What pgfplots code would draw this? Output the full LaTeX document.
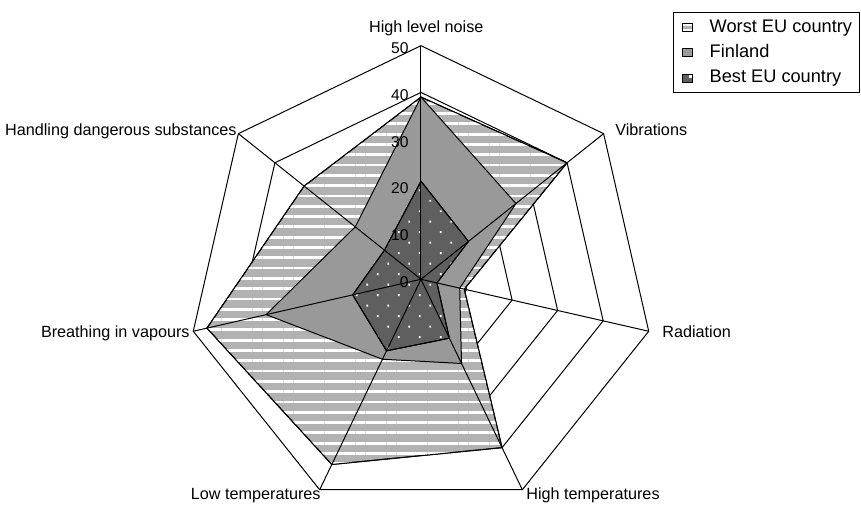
\documentclass[border=0pt]{standalone}
\usepackage{fontspec}
\setmainfont{Liberation Sans}
\usepackage{pgfplots}
\pgfplotsset{compat=1.18}
\usetikzlibrary{patterns.meta}

\definecolor{worstgray}{RGB}{178,178,178}
\definecolor{fingray}{RGB}{153,153,153}
\definecolor{bestgray}{RGB}{95,95,95}

% spokes clockwise from the top:
% noise 90, vibrations 38.5714, radiation -12.8571, high temp -64.2857,
% low temp -115.7143, vapours -167.1429, dangerous substances -218.5714
\begin{document}
\begin{tikzpicture}
\begin{axis}[
    x=2.336pt, y=2.336pt,
    xmin=-90.11, xmax=94.18, ymin=-48.31, ymax=59.78,
    enlargelimits=false, clip=false,
    axis line style={draw=none}, ticks=none,
    gridline/.style={black, line width=0.5pt, forget plot, data cs=polar},
    legend cell align=left,
    legend style={at={(0.9994,0.9756)}, anchor=north east, draw=black, line width=0.5pt,
        font=\fontsize{9.1}{10}\selectfont, inner xsep=4pt, inner ysep=3.2pt,
        row sep=4.2pt, column sep=8.5pt,
        nodes={inner sep=0pt, text height=6.6pt, text depth=1.8pt, anchor=west}},
]
% legend glyphs
\addlegendimage{legend image code/.code={
    \draw[fill=white, line width=0.5pt] (0pt,-2pt) rectangle (5pt,2pt);
    \fill[worstgray] (0.5pt,-0.6pt) rectangle (4.5pt,0.6pt);}}
\addlegendentry{Worst EU country}
\addlegendimage{legend image code/.code={
    \draw[fill=fingray, line width=0.5pt] (0pt,-2pt) rectangle (5pt,2pt);}}
\addlegendentry{Finland}
\addlegendimage{legend image code/.code={
    \draw[fill=bestgray, line width=0.5pt] (0pt,-2pt) rectangle (5pt,2pt);
    \fill[white] (3.4pt,0.5pt) rectangle (4.4pt,1.5pt);}}
\addlegendentry{Best EU country}

% rings
\pgfplotsinvokeforeach{10,20,30,40,50}{
\addplot[gridline] coordinates {(90,#1) (38.5714,#1) (-12.8571,#1) (-64.2857,#1)
    (-115.7143,#1) (-167.1429,#1) (-218.5714,#1)} -- cycle;
}

% worst EU country
\addplot[draw=black, line width=0.5pt, forget plot, data cs=polar,
    preaction={fill=worstgray},
    pattern={Lines[angle=0,distance=5.15pt,line width=1.4pt]}, pattern color=white]
coordinates {(90,39) (38.5714,40) (-12.8571,9.5) (-64.2857,40)
    (-115.7143,44) (-167.1429,47) (-218.5714,32)} -- cycle;

% Finland
\addplot[draw=black, line width=0.5pt, fill=fingray, forget plot, data cs=polar]
coordinates {(90,39) (38.5714,26) (-12.8571,8.5) (-64.2857,20)
    (-115.7143,19) (-167.1429,34) (-218.5714,18)} -- cycle;

% best EU country
\addplot[draw=black, line width=0.5pt, forget plot, data cs=polar,
    preaction={fill=bestgray},
    pattern={Dots[angle=45,distance=7.42pt,radius=0.65pt]}, pattern color=white]
coordinates {(90,21) (38.5714,13) (-12.8571,3.5) (-64.2857,14)
    (-115.7143,17) (-167.1429,15) (-218.5714,10)} -- cycle;

% spokes
\pgfplotsinvokeforeach{90,38.5714,-12.8571,-64.2857,-115.7143,-167.1429,-218.5714}{
\addplot[gridline] coordinates {(#1,0) (#1,50)};
}

% radial tick labels
\begin{scope}[every node/.style={anchor=east, inner sep=0pt, font=\fontsize{7.8}{9}\selectfont}]
\node at (axis cs:-2.57,49.46) {50};
\node at (axis cs:-2.57,39.46) {40};
\node at (axis cs:-2.57,29.46) {30};
\node at (axis cs:-2.57,19.46) {20};
\node at (axis cs:-2.57,9.46) {10};
\node at (axis cs:-2.57,-0.54) {0};
\end{scope}

% category labels
\begin{scope}[every node/.style={inner sep=0pt, font=\fontsize{8.1}{9.7}\selectfont}]
\node[anchor=base] at (axis cs:1.13,52.87) {High level noise};
\node[anchor=base west] at (axis cs:41.52,30.88) {Vibrations};
\node[anchor=base west] at (axis cs:51.58,-12.56) {Radiation};
\node[anchor=base west] at (axis cs:22.47,-47.24) {High temperatures};
\node[anchor=base east] at (axis cs:-21.40,-47.24) {Low temperatures};
\node[anchor=base east] at (axis cs:-49.44,-12.56) {Breathing in vapours};
\node[anchor=base east] at (axis cs:-39.38,30.88) {Handling dangerous substances};
\end{scope}
\end{axis}
\end{tikzpicture}
\end{document}
